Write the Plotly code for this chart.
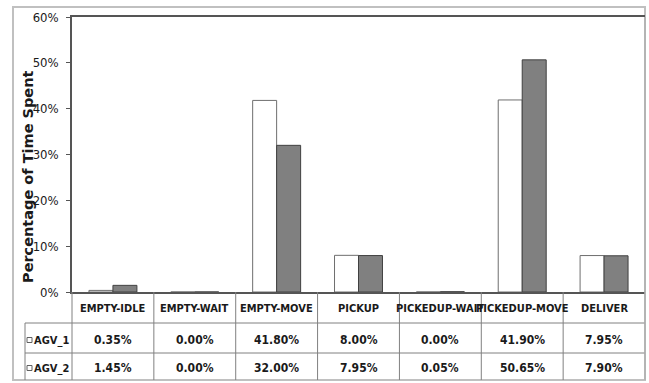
import plotly.graph_objects as go

categories = ["EMPTY-IDLE", "EMPTY-WAIT", "EMPTY-MOVE", "PICKUP",
              "PICKEDUP-WAIT", "PICKEDUP-MOVE", "DELIVER"]
series_names = ["AGV_1", "AGV_2"]
agv1 = [0.35, 0.00, 41.80, 8.00, 0.00, 41.90, 7.95]
agv2 = [1.45, 0.00, 32.00, 7.95, 0.05, 50.65, 7.90]
y_ticks = [0, 10, 20, 30, 40, 50, 60]

W, H = 649, 383
ML, MR, MT, MB = 72, 4, 17, 91
PW = W - ML - MR
PH = H - MT - MB
BOTTOM = H - MB  # pixel of 0% line

NARROW = "Liberation Sans Narrow, Arial Narrow, DejaVu Sans Condensed, sans-serif"
LINE = "#808080"
TXT = "#1a1a1a"

def px_x(p):
    return (p - ML) / PW

def px_y(p):
    return (BOTTOM - p) / PH

n = len(categories)

fig = go.Figure()
fig.add_trace(go.Bar(name=series_names[0], x=categories, y=agv1,
                     marker=dict(color="#ffffff", line=dict(color="#6e6e6e", width=1))))
fig.add_trace(go.Bar(name=series_names[1], x=categories, y=agv2,
                     marker=dict(color="#808080", line=dict(color="#404040", width=1))))

shapes = []
# outer chart border
shapes.append(dict(type="rect", xref="paper", yref="paper",
                   x0=px_x(13), x1=px_x(645), y0=px_y(380), y1=px_y(7),
                   line=dict(color="#c0c0c0", width=2), fillcolor="rgba(0,0,0,0)", layer="below"))
# table horizontal lines
for yp in [323, 353]:
    shapes.append(dict(type="line", xref="paper", yref="paper",
                       x0=px_x(25), x1=1, y0=px_y(yp), y1=px_y(yp),
                       line=dict(color=LINE, width=1)))
# legend column left line
shapes.append(dict(type="line", xref="paper", yref="paper",
                   x0=px_x(25), x1=px_x(25), y0=px_y(323), y1=px_y(380),
                   line=dict(color=LINE, width=1)))
# column dividers (category boundaries)
for k in range(n):
    xx = k / n
    shapes.append(dict(type="line", xref="paper", yref="paper",
                       x0=xx, x1=xx, y0=0, y1=px_y(380),
                       line=dict(color=LINE, width=1)))
# right plot border
shapes.append(dict(type="line", xref="paper", yref="paper",
                   x0=1, x1=1, y0=px_y(380), y1=1,
                   line=dict(color="#b0b0b0", width=1.5)))
# legend keys
key_fill = ["#ffffff", "#ffffff"]
row_y = [340, 368]
for i, yc in enumerate(row_y):
    shapes.append(dict(type="rect", xref="paper", yref="paper",
                       x0=px_x(27), x1=px_x(32), y0=px_y(yc + 2.5), y1=px_y(yc - 2.5),
                       line=dict(color="#606060", width=1), fillcolor=key_fill[i]))

FS = 12
annotations = []
# header row
for c in categories:
    annotations.append(dict(x=c, xref="x", y=px_y(308), yref="paper", text=c,
                            showarrow=False, font=dict(family=NARROW, size=11, color=TXT, weight="bold"),
                            xanchor="center", yanchor="middle"))
# value rows
for name, vals, yc in zip(series_names, [agv1, agv2], row_y):
    annotations.append(dict(x=0, xref="paper", y=px_y(yc), yref="paper", text=name,
                            showarrow=False, xanchor="right", yanchor="middle", xshift=-1,
                            font=dict(family=NARROW, size=11, color=TXT, weight="bold")))
    for c, v in zip(categories, vals):
        annotations.append(dict(x=c, xref="x", y=px_y(yc), yref="paper", text=f"{v:.2f}%",
                                showarrow=False, xanchor="center", yanchor="middle",
                                font=dict(family=NARROW, size=FS, color=TXT, weight="bold")))
# y-axis title
annotations.append(dict(x=px_x(28), xref="paper", y=px_y(177), yref="paper",
                        text="Percentage of Time Spent", textangle=-90, showarrow=False,
                        xanchor="center", yanchor="middle",
                        font=dict(family="DejaVu Sans, sans-serif", size=14.5,
                                  color=TXT, weight="bold")))

fig.update_layout(
    width=W, height=H,
    margin=dict(l=ML, r=MR, t=MT, b=MB, pad=0),
    paper_bgcolor="white", plot_bgcolor="white",
    barmode="group", bargap=0.414, bargroupgap=0,
    showlegend=False,
    shapes=shapes, annotations=annotations,
    xaxis=dict(range=[-0.5, n - 0.5], showticklabels=False, ticks="",
               showline=True, linecolor="#555555", linewidth=1.5, mirror=True,
               showgrid=False, zeroline=False, fixedrange=True),
    yaxis=dict(range=[0, 60], tickvals=y_ticks, ticktext=[f"{t}%" for t in y_ticks],
               ticks="outside", ticklen=4, tickcolor="#555555", ticklabelstandoff=5,
               showline=True, linecolor="#555555", linewidth=1.5,
               showgrid=False, zeroline=False, fixedrange=True,
               tickfont=dict(family=NARROW, size=13, color=TXT)),
)

fig.write_html("out.html")
